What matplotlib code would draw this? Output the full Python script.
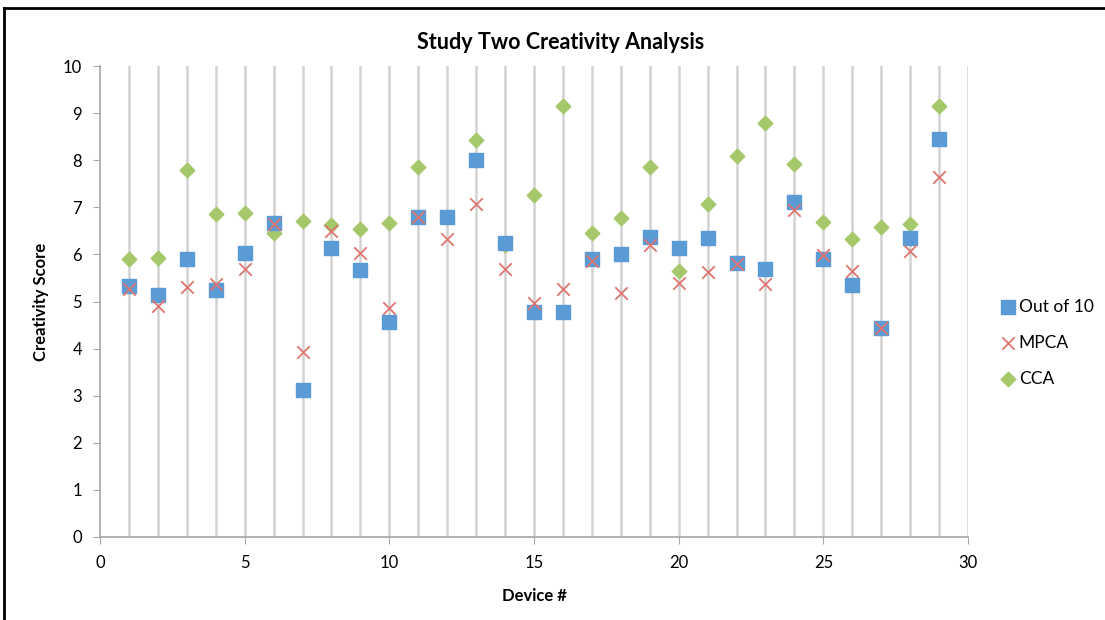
import matplotlib.pyplot as plt
from matplotlib.lines import Line2D

plt.rcParams['font.family'] = ['Lato', 'DejaVu Sans']

devices = list(range(1, 30))
out_of_10 = [5.33, 5.13, 5.90, 5.24, 6.02, 6.67, 3.12, 6.13, 5.67, 4.57,
             6.79, 6.79, 8.00, 6.24, 4.78, 4.78, 5.90, 6.01, 6.36, 6.13,
             6.34, 5.81, 5.68, 7.12, 5.90, 5.34, 4.44, 6.34, 8.45]
mpca = [5.27, 4.90, 5.31, 5.37, 5.68, 6.65, 3.93, 6.50, 6.02, 4.86,
        6.79, 6.33, 7.07, 5.68, 4.97, 5.27, 5.85, 5.17, 6.21, 5.40,
        5.63, 5.80, 5.37, 6.94, 5.99, 5.65, 4.44, 6.08, 7.64]
cca = [5.90, 5.92, 7.79, 6.86, 6.87, 6.45, 6.70, 6.62, 6.53, 6.67,
       7.86, 6.80, 8.43, 6.20, 7.26, 9.15, 6.46, 6.77, 7.86, 5.65,
       7.08, 8.10, 8.80, 7.92, 6.68, 6.33, 6.59, 6.65, 9.16]

fig = plt.figure(figsize=(11.05, 6.2), dpi=100)
ax = fig.add_axes([0.0905, 0.1339, 0.7855, 0.7596])

# vertical gridlines at every device
for xv in range(1, 31):
    ax.axvline(xv, color='#d2d2d2', lw=1.8, zorder=0)

ax.scatter(devices, out_of_10, marker='s', s=95, color='#5b9bd5',
           label='Out of 10', zorder=3)
ax.scatter(devices, mpca, marker='x', s=80, color='#e07470', linewidths=1.3,
           label='MPCA', zorder=4)
ax.scatter(devices, cca, marker='D', s=55, color='#a4c86a',
           label='CCA', zorder=2)

ax.set_xlim(0, 30)
ax.set_ylim(0, 10)
ax.set_xticks(range(0, 31, 5))
ax.set_yticks(range(0, 11))
ax.tick_params(axis='both', direction='out', length=5, color='#a6a6a6',
               labelsize=12, pad=8)
for side in ['top', 'right']:
    ax.spines[side].set_visible(False)
for side in ['left', 'bottom']:
    ax.spines[side].set_color('#a6a6a6')
    ax.spines[side].set_linewidth(1.2)

fig.suptitle('Study Two Creativity Analysis', x=0.507, y=0.948, fontsize=15.5,
             fontweight='bold')
ax.set_xlabel('Device #', fontsize=12, fontweight='bold', labelpad=12)
ax.set_ylabel('Creativity Score', fontsize=12, fontweight='bold', labelpad=10)

fig.legend(loc='center left', bbox_to_anchor=(0.889, 0.447), frameon=False,
           fontsize=12.5, handletextpad=0.0, labelspacing=1.15, handlelength=1.2)

# outer frame lines
fig.add_artist(Line2D([0.004, 0.004], [0.0, 0.987], transform=fig.transFigure,
                      color='black', lw=2))
fig.add_artist(Line2D([0.004, 1.0], [0.987, 0.987], transform=fig.transFigure,
                      color='black', lw=2))

fig.savefig('out.png', dpi=100)
